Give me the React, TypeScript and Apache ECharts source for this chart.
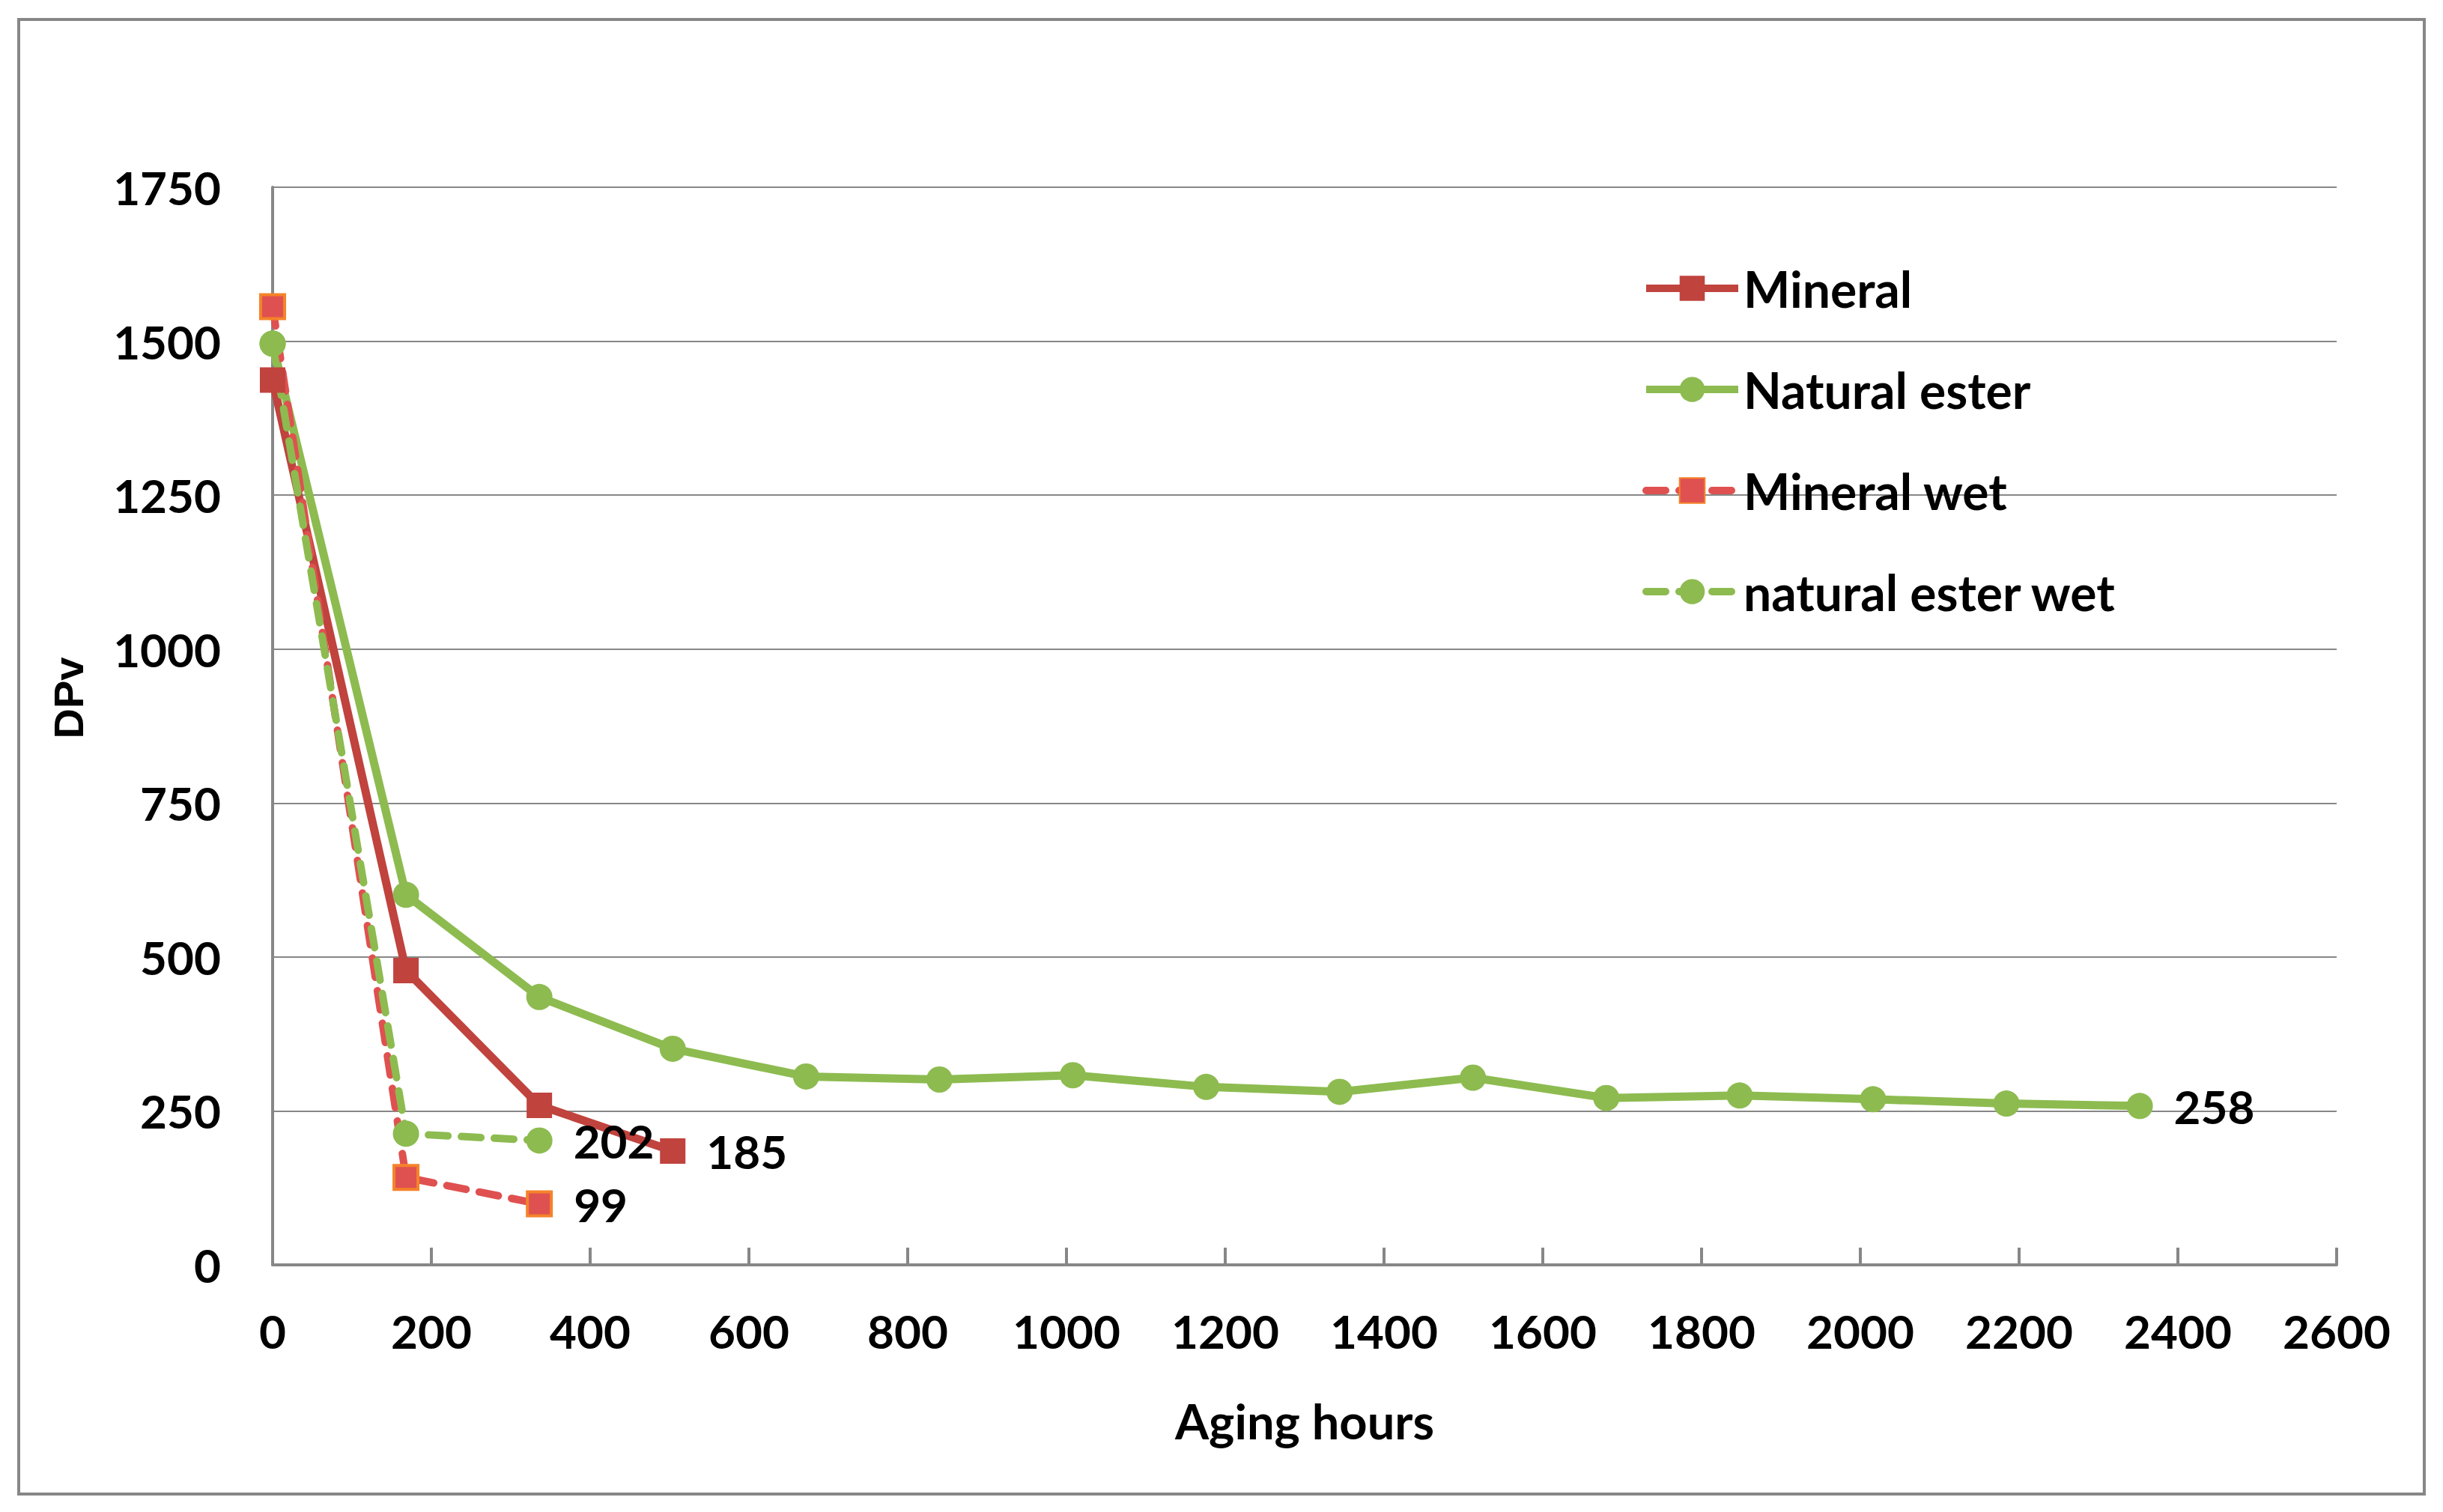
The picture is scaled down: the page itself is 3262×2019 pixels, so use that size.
import React, { useEffect, useRef } from "react";
import * as echarts from "echarts";

// ---- data ----
const hours = [0, 168, 336, 504, 672, 840, 1008, 1176, 1344, 1512, 1680, 1848, 2016, 2184, 2352];
const mineral = [1437, 478, 259, 185];
const naturalEster = [1496, 601, 435, 351, 306, 301, 308, 289, 281, 304, 271, 275, 269, 262, 258];
const mineralWet = [1556, 142, 99];
const naturalEsterWet = [1496, 213, 202];
const seriesNames = ["Mineral", "Natural ester", "Mineral wet", "natural ester wet"];
const xAxisTitle = "Aging hours";
const yAxisTitle = "DPv";
const xRange = [0, 2600, 200];
const yRange = [0, 1750, 250];

const FONT = "Lato, 'Open Sans', sans-serif";
const RED = "#C0433E";
const GREEN = "#8DBB50";
const WET_RED = "#DF5150";
const ORANGE = "#F5832A";
const AXIS = "#878787";

function toData(values: number[]) {
  return values.map((v, i) =>
    i === values.length - 1
      ? { value: [hours[i], v], label: { show: true } }
      : [hours[i], v]
  );
}

const labelStyle = {
  show: false,
  position: "right",
  distance: 28,
  fontFamily: FONT,
  fontWeight: "bold",
  fontSize: 62,
  color: "#000",
};

const plain = (v: number) => String(v);

export default function App() {
  const ref = useRef<HTMLDivElement>(null);
  useEffect(() => {
    if (!ref.current) return;
    const chart = echarts.init(ref.current, null, { renderer: "svg" });
    chart.setOption({
      animation: false,
      backgroundColor: "#fff",
      graphic: [
        {
          type: "rect",
          shape: { x: 25, y: 26, width: 3212, height: 1969 },
          style: { fill: "none", stroke: AXIS, lineWidth: 4 },
          silent: true,
        },
      ],
      grid: { left: 364, right: 142, top: 250, bottom: 330, containLabel: false },
      legend: {
        orient: "vertical",
        left: 2193,
        top: 350,
        padding: 0,
        itemWidth: 123,
        itemHeight: 42,
        itemGap: 65,
        data: seriesNames,
        lineStyle: { width: 10 },
        textStyle: {
          fontFamily: FONT,
          fontWeight: "bold",
          fontSize: 66,
          color: "#000",
          lineHeight: 70,
          padding: [0, 0, 0, 2],
        },
      },
      xAxis: {
        type: "value",
        min: xRange[0],
        max: xRange[1],
        interval: xRange[2],
        name: xAxisTitle,
        nameLocation: "middle",
        nameGap: 175,
        nameTextStyle: { fontFamily: FONT, fontWeight: "bold", fontSize: 65, color: "#000" },
        axisLine: { show: true, lineStyle: { color: AXIS, width: 4 } },
        axisTick: { show: true, inside: true, length: 23, lineStyle: { color: AXIS, width: 4 } },
        axisLabel: { margin: 57, formatter: plain, fontFamily: FONT, fontWeight: "bold", fontSize: 62, color: "#000" },
        splitLine: { show: false },
      },
      yAxis: {
        type: "value",
        min: yRange[0],
        max: yRange[1],
        interval: yRange[2],
        name: yAxisTitle,
        nameLocation: "middle",
        nameRotate: 90,
        nameGap: 245,
        nameTextStyle: {
          fontFamily: "'Liberation Sans', Arial, sans-serif",
          fontWeight: "bold",
          fontSize: 56,
          color: "#000",
          padding: [0, 0, 0, 75],
        },
        axisLine: { show: true, lineStyle: { color: AXIS, width: 4 } },
        axisTick: { show: false },
        axisLabel: { margin: 69, formatter: plain, fontFamily: FONT, fontWeight: "bold", fontSize: 62, color: "#000" },
        splitLine: { show: true, lineStyle: { color: AXIS, width: 2 } },
      },
      series: [
        {
          name: seriesNames[0],
          type: "line",
          data: toData(mineral),
          symbol: "rect",
          symbolSize: 34,
          lineStyle: { color: RED, width: 11 },
          itemStyle: { color: RED },
          label: labelStyle,
        },
        {
          name: seriesNames[1],
          type: "line",
          data: toData(naturalEster),
          symbol: "circle",
          symbolSize: 35,
          lineStyle: { color: GREEN, width: 11 },
          itemStyle: { color: GREEN },
          label: labelStyle,
        },
        {
          name: seriesNames[2],
          type: "line",
          data: toData(mineralWet),
          symbol: "rect",
          symbolSize: 32,
          lineStyle: { color: WET_RED, width: 10, type: [26, 18], cap: "round" },
          itemStyle: { color: WET_RED, borderColor: ORANGE, borderWidth: 4 },
          label: labelStyle,
        },
        {
          name: seriesNames[3],
          type: "line",
          data: toData(naturalEsterWet),
          symbol: "circle",
          symbolSize: 35,
          lineStyle: { color: GREEN, width: 10, type: [26, 18], cap: "round" },
          itemStyle: { color: GREEN },
          label: labelStyle,
        },
      ],
    });
    return () => chart.dispose();
  }, []);
  return (
    <div
      ref={ref}
      style={{ position: "absolute", left: 0, top: 0, width: 3262, height: 2019 }}
    />
  );
}
